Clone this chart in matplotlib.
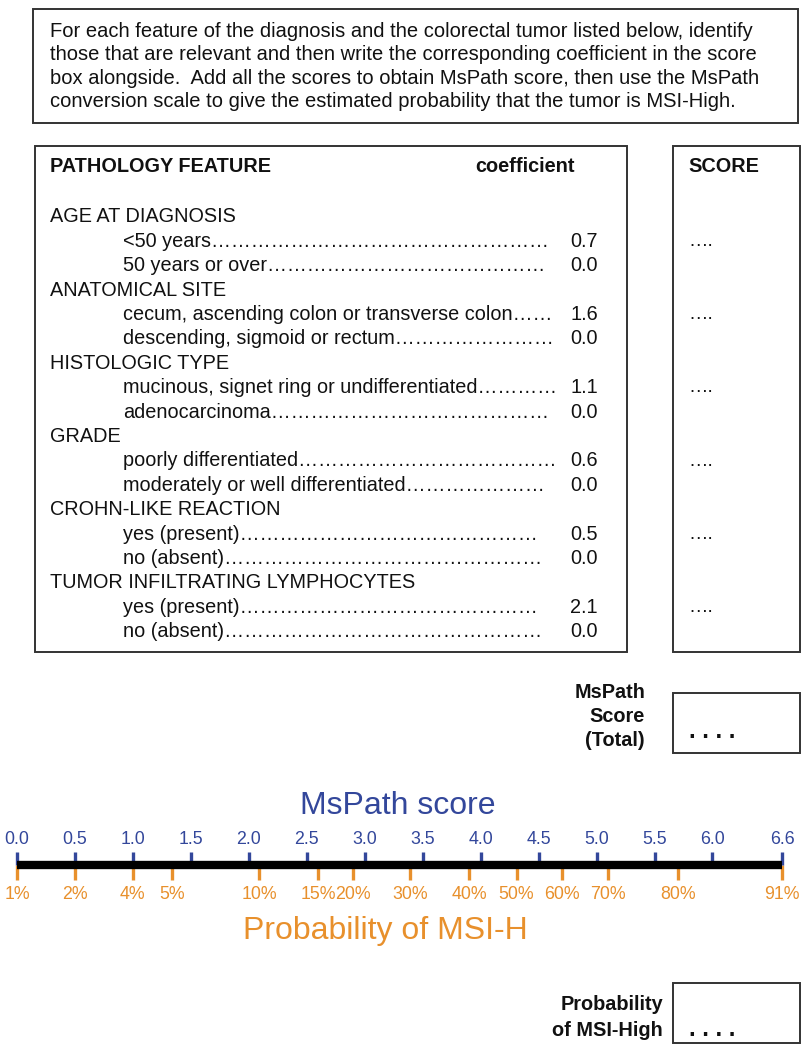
import matplotlib
matplotlib.use("Agg")
import matplotlib.pyplot as plt
from matplotlib.patches import Rectangle

plt.rcParams['font.family'] = ['Liberation Sans', 'DejaVu Sans']

# ---------------- data ----------------
intro_lines = [
    "For each feature of the diagnosis and the colorectal tumor listed below, identify",
    "those that are relevant and then write the corresponding coefficient in the score",
    "box alongside.  Add all the scores to obtain MsPath score, then use the MsPath",
    "conversion scale to give the estimated probability that the tumor is MSI-High.",
]
categories = ["AGE AT DIAGNOSIS", "ANATOMICAL SITE", "HISTOLOGIC TYPE", "GRADE",
              "CROHN-LIKE REACTION", "TUMOR INFILTRATING LYMPHOCYTES"]
items = [["<50 years", "50 years or over"],
         ["cecum, ascending colon or transverse colon", "descending, sigmoid or rectum"],
         ["mucinous, signet ring or undifferentiated", "adenocarcinoma"],
         ["poorly differentiated", "moderately or well differentiated"],
         ["yes (present)", "no (absent)"],
         ["yes (present)", "no (absent)"]]
coefficients = [[0.7, 0.0], [1.6, 0.0], [1.1, 0.0], [0.6, 0.0], [0.5, 0.0], [2.1, 0.0]]

score_ticks = [0.0, 0.5, 1.0, 1.5, 2.0, 2.5, 3.0, 3.5, 4.0, 4.5, 5.0, 5.5, 6.0, 6.6]
score_tick_labels = ["0.0", "0.5", "1.0", "1.5", "2.0", "2.5", "3.0", "3.5", "4.0",
                     "4.5", "5.0", "5.5", "6.0", "6.6"]
prob_labels = ["1%", "2%", "4%", "5%", "10%", "15%", "20%", "30%", "40%", "50%",
               "60%", "70%", "80%", "91%"]
prob_at_score = [0.0, 0.50, 1.00, 1.34, 2.09, 2.60, 2.90, 3.39, 3.90, 4.31,
                 4.70, 5.10, 5.70, 6.6]

BLUE = "#33479b"
ORANGE = "#e8902c"
EDGE = "#333333"
TXT = "#111111"

W, H = 806, 1050
fig = plt.figure(figsize=(W / 100, H / 100), dpi=100)
fig.patch.set_facecolor("white")
ax = fig.add_axes([0, 0, 1, 1])
ax.set_xlim(0, W)
ax.set_ylim(H, 0)
ax.axis("off")


def box(x0, y0, x1, y1):
    ax.add_patch(Rectangle((x0, y0), x1 - x0, y1 - y0, fill=False,
                           edgecolor=EDGE, linewidth=1.4))


renderer = fig.canvas.get_renderer()

# ---------------- intro box ----------------
box(33, 9, 798, 123)
for i, line in enumerate(intro_lines):
    ax.text(50, 37 + i * 23.4, line, fontsize=14.5, va="baseline", ha="left", color=TXT)

# ---------------- main table ----------------
box(35, 146, 627, 652)
box(673, 146, 800, 652)
FS = 14.3
ax.text(50, 167, "PATHOLOGY FEATURE", fontsize=FS, fontweight="bold", va="center", color=TXT)
ax.text(575, 167, "coefficient", fontsize=FS, fontweight="bold", va="center", ha="right", color=TXT)
ax.text(688, 167, "SCORE", fontsize=FS, fontweight="bold", va="center", color=TXT)

row_y0, row_dy = 217, 24.4
r = 0
for cat, its, coefs in zip(categories, items, coefficients):
    ax.text(50, row_y0 + r * row_dy, cat, fontsize=FS, va="center", color=TXT)
    r += 1
    for j, (it, c) in enumerate(zip(its, coefs)):
        y = row_y0 + r * row_dy
        t = ax.text(123, y, it, fontsize=FS, va="center", color=TXT)
        n = 60
        while n > 0:
            t.set_text(it + "\u2026" * n)
            if t.get_window_extent(renderer).x1 <= 557:
                break
            n -= 1
        ax.text(570, y, f"{c:.1f}", fontsize=FS, va="center", color=TXT)
        if j == 0:
            ax.text(688, y, "\u2026.", fontsize=14, va="center", color=TXT)
        r += 1

# ---------------- MsPath total box ----------------
for k, s in enumerate(["MsPath", "Score", "(Total)"]):
    ax.text(645, 692 + k * 24, s, fontsize=14.3, fontweight="bold", va="center", ha="right", color=TXT)
box(673, 693, 800, 753)
ax.text(689, 731, ". . . .", fontsize=17, fontweight="bold", va="center", color=TXT)

# ---------------- probability box ----------------
for k, s in enumerate(["Probability", "of MSI-High"]):
    ax.text(663, 1004 + k * 26, s, fontsize=14.3, fontweight="bold", va="center", ha="right", color=TXT)
box(673, 983, 800, 1043)
ax.text(689, 1029, ". . . .", fontsize=17, fontweight="bold", va="center", color=TXT)

# ---------------- conversion scale ----------------
ax.text(398, 806, "MsPath score", fontsize=23, color=BLUE, ha="center", va="center")
ax.text(385, 931, "Probability of MSI-H", fontsize=23, color=ORANGE, ha="center", va="center")

x0, x1, yline = 17, 782, 865
sax = fig.add_axes([x0 / W, 1 - yline / H, (x1 - x0) / W, 1e-4])
sax.set_xlim(score_ticks[0], score_ticks[-1])
sax.set_ylim(-1, 1)
for sp in sax.spines.values():
    sp.set_visible(False)
sax.set_yticks([])
sax.patch.set_alpha(0)
sax.plot([score_ticks[0], score_ticks[-1]], [0, 0], color="black", lw=6.0,
         solid_capstyle="butt", clip_on=False, zorder=3)
sax.xaxis.set_ticks_position("top")
sax.xaxis.set_label_position("top")
sax.set_xticks(score_ticks, score_tick_labels)
sax.tick_params(axis="x", which="major", direction="out", length=9.4, width=2.4,
                color=BLUE, labelcolor=BLUE, labelsize=12.8, pad=3)

pax = sax.secondary_xaxis("bottom")
for sp in pax.spines.values():
    sp.set_visible(False)
pax.set_xticks(prob_at_score, prob_labels)
pax.tick_params(axis="x", direction="out", length=10.8, width=2.4,
                color=ORANGE, labelcolor=ORANGE, labelsize=12.8, pad=4)

fig.savefig("out.png", dpi=100, facecolor="white")
